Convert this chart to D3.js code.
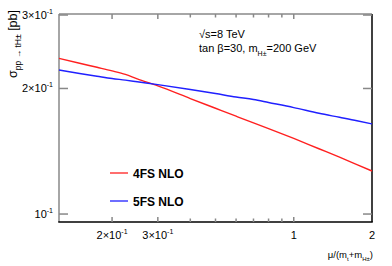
<!DOCTYPE html>
<html>
<head>
<meta charset="utf-8">
<script src="https://cdn.jsdelivr.net/npm/d3@7"></script>
<style>
  body { margin: 0; background: #fff; }
  text { font-family: "Liberation Sans", Arial, sans-serif; }
</style>
</head>
<body>
<div id="chart"></div>
<script>

var mu = [0.125, 0.15, 0.175, 0.2, 0.225, 0.25, 0.3, 0.4, 0.5, 0.6, 0.7, 0.8, 1, 1.25, 1.5, 1.75, 2];
var sigma4FS = [0.2362, 0.2299, 0.2248, 0.2204, 0.2161, 0.2109, 0.2028, 0.1892, 0.1793, 0.1716, 0.1654, 0.1603, 0.1518, 0.1434, 0.1369, 0.1314, 0.1268];
var sigma5FS = [0.2214, 0.2172, 0.2140, 0.2113, 0.2094, 0.2075, 0.2043, 0.1989, 0.1945, 0.1908, 0.1882, 0.1851, 0.1800, 0.1744, 0.1706, 0.1674, 0.1644];
var seriesNames = ['4FS NLO', '5FS NLO'];
var seriesColors = ['#ff2020', '#2020ff'];

var yTicks = [0.1, 0.2, 0.3];
var yTickLabels = [['10', '-1'], ['2\u00d710', '-1'], ['3\u00d710', '-1']];
var xMajor = [0.2, 0.3, 1, 2];
var xMajorLabels = [['2\u00d710', '-1'], ['3\u00d710', '-1'], ['1', ''], ['2', '']];
var xMinor = [0.4, 0.5, 0.6, 0.7, 0.8, 0.9];

var W = 392, H = 266;
var m = {left: 59, top: 14, right: 20, bottom: 44};

var svg = d3.select('#chart').append('svg')
  .attr('width', W).attr('height', H);

var x = d3.scaleLog().domain([0.125, 2]).range([m.left, W - m.right]);
var y = d3.scaleLog().domain([0.0957, 0.3017]).range([H - m.bottom, m.top]);

var x0 = m.left, x1 = W - m.right, y0 = H - m.bottom, y1 = m.top;

// frame: left/top gray, bottom/right black
svg.append('line').attr('x1', x0).attr('x2', x0).attr('y1', y1).attr('y2', y0)
  .attr('stroke', '#888').attr('stroke-width', 1.5);
svg.append('line').attr('x1', x0).attr('x2', x1).attr('y1', y1).attr('y2', y1)
  .attr('stroke', '#888').attr('stroke-width', 1.5);
svg.append('line').attr('x1', x0 - 0.75).attr('x2', x1 + 0.75).attr('y1', y0).attr('y2', y0)
  .attr('stroke', '#000').attr('stroke-width', 1.5);
svg.append('line').attr('x1', x1).attr('x2', x1).attr('y1', y1).attr('y2', y0)
  .attr('stroke', '#000').attr('stroke-width', 1.5);

// y ticks, left and right
yTicks.forEach(function(v){
  svg.append('line').attr('x1', x0).attr('x2', x0 + 9).attr('y1', y(v)).attr('y2', y(v))
    .attr('stroke', '#888').attr('stroke-width', 1.5);
  svg.append('line').attr('x1', x1 - 9).attr('x2', x1).attr('y1', y(v)).attr('y2', y(v))
    .attr('stroke', '#888').attr('stroke-width', 1.5);
});

svg.selectAll('text.ylab')
  .data(yTicks)
  .enter()
  .append('text')
  .classed('ylab', true)
  .attr('x', x0 - 6)
  .attr('y', function(d){return y(d) + 4;})
  .attr('text-anchor', 'end')
  .attr('font-size', 11)
  .each(function(d, i){
    var t = d3.select(this);
    t.append('tspan').text(yTickLabels[i][0]);
    t.append('tspan').attr('dy', -5).attr('font-size', 7).text(yTickLabels[i][1]);
  });

// x ticks bottom and top
xMajor.concat(xMinor).forEach(function(v){
  if (v >= 2) return;
  var len = xMajor.indexOf(v) >= 0 ? 5 : 3.5;
  svg.append('line').attr('x1', x(v)).attr('x2', x(v)).attr('y1', y0).attr('y2', y0 - len)
    .attr('stroke', '#888').attr('stroke-width', 1.5);
  svg.append('line').attr('x1', x(v)).attr('x2', x(v)).attr('y1', y1).attr('y2', y1 + len)
    .attr('stroke', '#888').attr('stroke-width', 1.5);
});

svg.selectAll('text.xlab')
  .data(xMajor)
  .enter()
  .append('text')
  .classed('xlab', true)
  .attr('x', function(d){return x(d);})
  .attr('y', y0 + 17)
  .attr('text-anchor', 'middle')
  .attr('font-size', 11)
  .each(function(d, i){
    var t = d3.select(this);
    t.append('tspan').text(xMajorLabels[i][0]);
    if (xMajorLabels[i][1]) t.append('tspan').attr('dy', -5).attr('font-size', 7).text(xMajorLabels[i][1]);
  });

// axis titles
var xt = svg.append('text').attr('x', x1 + 1).attr('y', H - 8)
  .attr('text-anchor', 'end').attr('font-size', 9.5);
xt.append('tspan').text('\u03bc/(m');
xt.append('tspan').attr('dy', 3).attr('font-size', 6).text('t');
xt.append('tspan').attr('dy', -3).text('+m');
xt.append('tspan').attr('dy', 3).attr('font-size', 6).text('H\u00b1');
xt.append('tspan').attr('dy', -3).text(')');

var yt = svg.append('text')
  .attr('transform', 'translate(17,10) rotate(-90)')
  .attr('text-anchor', 'end').attr('font-size', 12.5);
yt.append('tspan').text('\u03c3');
yt.append('tspan').attr('dy', 4).attr('font-size', 8.5).text('pp \u2192 tH\u00b1');
yt.append('tspan').attr('dy', -4).text(' [pb]');

// curves
var line = d3.line()
  .x(function(d){return x(d[0]);})
  .y(function(d){return y(d[1]);})
  .curve(d3.curveMonotoneX);

[sigma4FS, sigma5FS].forEach(function(s, i){
  svg.append('path')
    .datum(d3.zip(mu, s))
    .attr('d', line)
    .attr('fill', 'none')
    .attr('stroke', seriesColors[i])
    .attr('stroke-width', 1.4);
});

// legend
seriesNames.forEach(function(name, i){
  var ly = 173 + i * 28;
  svg.append('line').attr('x1', 110).attr('x2', 128).attr('y1', ly).attr('y2', ly)
    .attr('stroke', seriesColors[i]).attr('stroke-width', 1.3);
  svg.append('text').attr('x', 133).attr('y', ly + 4.5)
    .attr('font-size', 12).attr('font-weight', 'bold').text(name);
});

// annotation
var a1 = svg.append('text').attr('x', 199).attr('y', 38).attr('font-size', 11);
a1.append('tspan').text('\u221as=8 TeV');
var a2 = svg.append('text').attr('x', 199).attr('y', 52).attr('font-size', 11);
a2.append('tspan').text('tan \u03b2=30, m');
a2.append('tspan').attr('dy', 4).attr('font-size', 7).text('H\u00b1');
a2.append('tspan').attr('dy', -4).text('=200 GeV');

</script>
</body>
</html>
